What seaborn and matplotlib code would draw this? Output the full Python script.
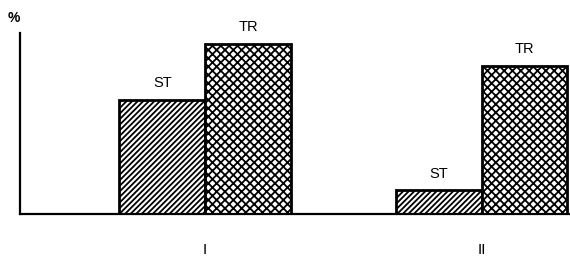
import matplotlib
matplotlib.use("Agg")
import matplotlib.pyplot as plt
import seaborn as sns
import pandas as pd

groups = ["I", "II"]
series = ["ST", "TR"]
st_values = [63, 13]
tr_values = [94, 82]

df = pd.DataFrame({
    "group": groups * 2,
    "series": ["ST"] * 2 + ["TR"] * 2,
    "value": st_values + tr_values,
})

sns.set_style("white")
plt.rcParams["font.family"] = ["Liberation Sans", "DejaVu Sans"]
plt.rcParams["hatch.linewidth"] = 1.3
plt.rcParams["hatch.color"] = "black"
plt.rcParams["text.color"] = "black"
plt.rcParams["xtick.color"] = "black"

fig = plt.figure(figsize=(5.7, 2.58), dpi=100)
ax = fig.add_axes([20 / 570, (258 - 214) / 258, 1 - 20 / 570, (214 - 33) / 258])

sns.barplot(data=df, x="group", y="value", hue="series", hue_order=series,
            order=groups, width=0.62, dodge=True, ax=ax, legend=False,
            palette={"ST": "white", "TR": "white"}, edgecolor="black",
            linewidth=2.0, saturation=1)

hatches = {"ST": "//////", "TR": "xxxx"}
for cont, s in zip(ax.containers, series):
    for p in cont:
        p.set_hatch(hatches[s])
        p.set_edgecolor("black")
        p.set_facecolor("white")
    ax.bar_label(cont, labels=[s] * len(cont), padding=7, fontsize=10.5,
                 color="black")

ax.set_xlim(-0.67, 1.32)
ax.set_ylim(0, 100)
ax.set_xlabel("")
ax.set_ylabel("")
ax.set_yticks([])
ax.tick_params(axis="x", length=0, pad=21, labelsize=11, labelcolor="black")
for sp in ["top", "right"]:
    ax.spines[sp].set_visible(False)
for sp in ["left", "bottom"]:
    ax.spines[sp].set_color("black")
    ax.spines[sp].set_linewidth(1.6)

fig.text(14 / 570, 1 - 18 / 258, "%", fontsize=10, ha="center", va="center",
         fontweight="bold", color="black")

fig.savefig("out.png", dpi=100)
